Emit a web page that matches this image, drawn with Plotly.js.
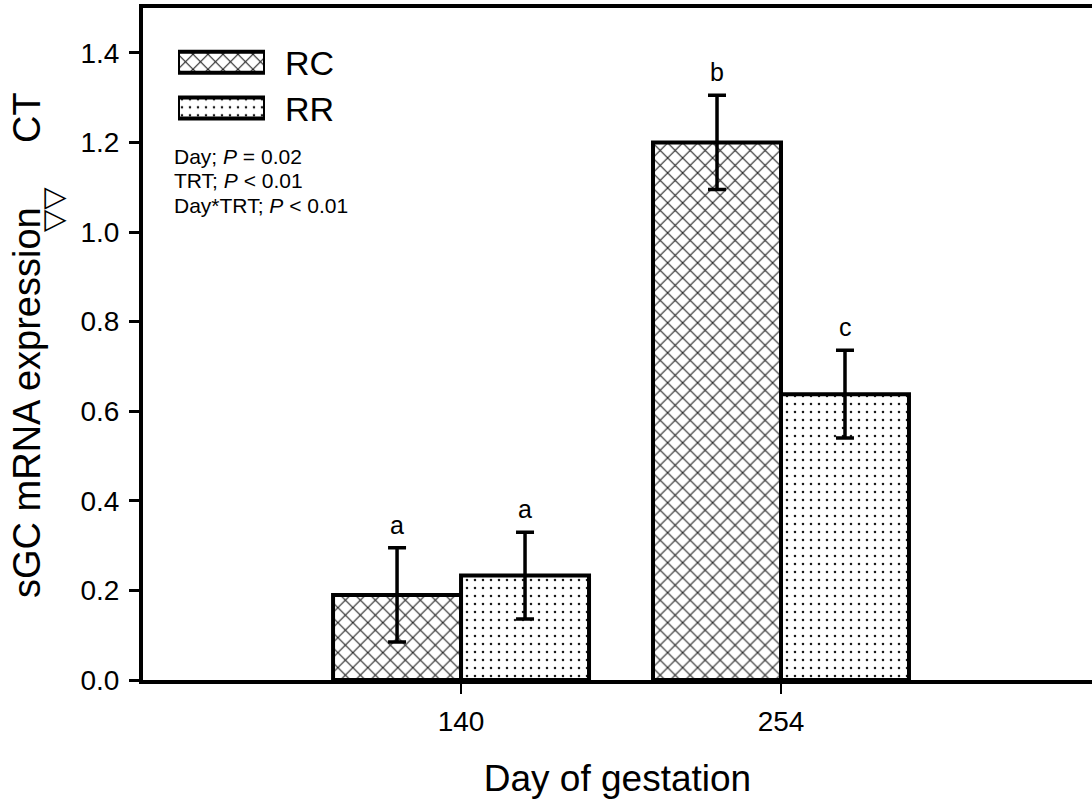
<!DOCTYPE html>
<html><head><meta charset="utf-8">
<script src="https://cdn.plot.ly/plotly-3.0.1.min.js"></script>
<style>html,body{margin:0;padding:0;background:#fff;overflow:hidden}</style>
</head><body><div id="chart" style="width:1092px;height:810px"></div>
<script>
// ---- data ----
const days = ['140', '254'];
const seriesNames = ['RC', 'RR'];
const rcValues = [0.19, 1.20];
const rcErrors = [0.105, 0.105];
const rrValues = [0.233, 0.638];
const rrErrors = [0.097, 0.098];
const rcLetters = ['a', 'b'];
const rrLetters = ['a', 'c'];
const yTickVals = [0, 0.2, 0.4, 0.6, 0.8, 1.0, 1.2, 1.4];
const yTickText = ['0.0', '0.2', '0.4', '0.6', '0.8', '1.0', '1.2', '1.4'];
const statLines = ['Day; <i>P</i> = 0.02', 'TRT; <i>P</i> &lt; 0.01', 'Day*TRT; <i>P</i> &lt; 0.01'];
const xTitle = 'Day of gestation';
const yTitleMain = 'sGC mRNA expression';
const yTitleSym = '\u25BD\u25BD';
const yTitleEnd = 'CT';
const legendKeys = [1, 0]; // slot of RC and RR legend swatches

// ---- styling ----
const FONT = 'Liberation Sans, Arial, Helvetica, sans-serif';
const L = 143, T = 8, W = 1092, H = 810, B = 130;
const plotW = W - L, plotH = H - T - B;
const px = x => (x - L) / plotW;
const py = y => (H - B - y) / plotH;

const rcPattern = {shape: 'x', fgcolor: '#222222', bgcolor: '#ffffff', size: 10.6, solidity: 0.2, fillmode: 'replace'};
const rrPattern = {shape: '.', fgcolor: '#1a1a1a', bgcolor: '#ffffff', size: 8, solidity: 0.08, fillmode: 'replace'};

const errStyle = {type: 'data', visible: true, color: '#000', thickness: 3.5, width: 9};

const traces = [
  {type: 'bar', name: seriesNames[0], x: days, y: rcValues,
   error_y: Object.assign({array: rcErrors}, errStyle),
   marker: {color: '#ffffff', pattern: rcPattern, line: {color: '#000', width: 4}},
   showlegend: false, hoverinfo: 'skip'},
  {type: 'bar', name: seriesNames[1], x: days, y: rrValues,
   error_y: Object.assign({array: rrErrors}, errStyle),
   marker: {color: '#ffffff', pattern: rrPattern, line: {color: '#000', width: 4}},
   showlegend: false, hoverinfo: 'skip'},
  // legend swatches on a small helper subplot
  {type: 'bar', orientation: 'h', x: [1], y: [legendKeys[0]], width: 0.46, offset: -0.23,
   xaxis: 'x2', yaxis: 'y2', cliponaxis: false, showlegend: false, hoverinfo: 'skip',
   marker: {color: '#ffffff', pattern: rcPattern, line: {color: '#000', width: 4}}},
  {type: 'bar', orientation: 'h', x: [1], y: [legendKeys[1]], width: 0.46, offset: -0.23,
   xaxis: 'x2', yaxis: 'y2', cliponaxis: false, showlegend: false, hoverinfo: 'skip',
   marker: {color: '#ffffff', pattern: rrPattern, line: {color: '#000', width: 4}}}
];

const annotations = [];
// significance letters (x given as category index)
const letterFont = {family: FONT, size: 25, color: '#000'};
days.forEach((d, i) => {
  annotations.push({x: i, y: rcValues[i] + rcErrors[i], xref: 'x', yref: 'y', text: rcLetters[i],
    showarrow: false, xshift: -64, yshift: 7, yanchor: 'bottom', font: letterFont});
  annotations.push({x: i, y: rrValues[i] + rrErrors[i], xref: 'x', yref: 'y', text: rrLetters[i],
    showarrow: false, xshift: 64, yshift: 7, yanchor: 'bottom', font: letterFont});
});
// legend labels
const legFont = {family: FONT, size: 34, color: '#000'};
annotations.push({xref: 'paper', yref: 'paper', x: px(283), y: py(63), xanchor: 'left', yanchor: 'middle',
  text: seriesNames[0], showarrow: false, font: legFont});
annotations.push({xref: 'paper', yref: 'paper', x: px(283), y: py(109), xanchor: 'left', yanchor: 'middle',
  text: seriesNames[1], showarrow: false, font: legFont});
// stats lines
const statY = [156, 181, 206];
statLines.forEach((s, i) => {
  annotations.push({xref: 'paper', yref: 'paper', x: px(173), y: py(statY[i]), xanchor: 'left', yanchor: 'middle',
    text: s, showarrow: false, borderpad: 0, font: {family: FONT, size: 21, color: '#000'}});
});
// y-axis title pieces
const yTitleFont = {family: FONT, size: 38, color: '#000'};
annotations.push({xref: 'paper', yref: 'paper', x: px(27), y: py(403), xanchor: 'center', yanchor: 'middle',
  textangle: -90, text: yTitleMain, showarrow: false, font: yTitleFont});
annotations.push({xref: 'paper', yref: 'paper', x: px(53), y: py(210), xanchor: 'center', yanchor: 'middle',
  textangle: -90, text: yTitleSym, showarrow: false, font: {family: 'DejaVu Sans, ' + FONT, size: 29, color: '#000'}});
annotations.push({xref: 'paper', yref: 'paper', x: px(27), y: py(118), xanchor: 'center', yanchor: 'middle',
  textangle: -90, text: yTitleEnd, showarrow: false, font: yTitleFont});

const layout = {
  width: W, height: H,
  margin: {l: L, r: 0, t: T, b: B, pad: 0},
  paper_bgcolor: '#ffffff', plot_bgcolor: 'rgba(0,0,0,0)',
  font: {family: FONT, color: '#000'},
  barmode: 'group', bargap: 0.2, bargroupgap: 0,
  showlegend: false,
  xaxis: {
    type: 'category', range: [-0.994, 1.972], autorange: false,
    showline: true, linecolor: '#000', linewidth: 4, mirror: true,
    ticks: 'outside', ticklen: 10, tickwidth: 2, tickcolor: '#000',
    ticklabelstandoff: 3,
    tickfont: {family: FONT, size: 28, color: '#000'},
    showgrid: false, zeroline: false, fixedrange: true,
    title: {text: xTitle, font: {family: FONT, size: 37, color: '#000'}, standoff: 31}
  },
  yaxis: {
    range: [0, 1.5], autorange: false,
    tickvals: yTickVals, ticktext: yTickText,
    showline: true, linecolor: '#000', linewidth: 4, mirror: false,
    ticks: 'outside', ticklen: 10, tickwidth: 3, tickcolor: '#000',
    ticklabelstandoff: 4,
    tickfont: {family: FONT, size: 28, color: '#000'},
    showgrid: false, zeroline: false, fixedrange: true
  },
  xaxis2: {domain: [px(178), px(265)], range: [0, 1], anchor: 'y2', visible: false, fixedrange: true},
  yaxis2: {domain: [py(131), py(39.3)], range: [-0.5, 1.5], anchor: 'x2', visible: false, fixedrange: true},
  annotations: annotations
};

Plotly.newPlot('chart', traces, layout, {displayModeBar: false, staticPlot: true});
</script>
</body></html>
